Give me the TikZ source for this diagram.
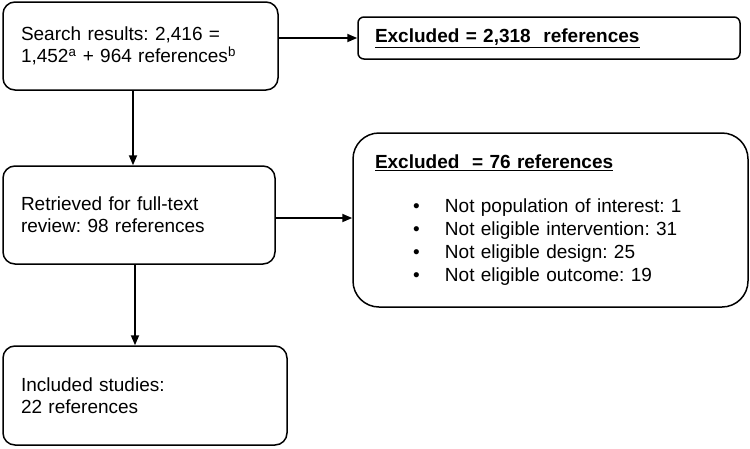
\documentclass[tikz,border=0pt]{standalone}
\usepackage{fontspec}
\setmainfont{Liberation Sans}
\usetikzlibrary{arrows.meta}

\begin{document}
\frenchspacing
\begin{tikzpicture}[x=1pt,y=-1pt,
    font=\fontsize{19}{22}\selectfont,
    box/.style={draw,line width=1.5pt,rounded corners=12pt,align=left,inner xsep=18pt},
    >={Triangle[length=10pt,width=8pt]}, line width=1.8pt]
            \useasboundingbox (0,0) rectangle (750,448);

            \node[box,text width=239pt,minimum height=88pt] (search) at (140.5,46)
                {Search results: 2,416 =\\1,452\textsuperscript{a} + 964 references\textsuperscript{b}};
            \node[box,text width=236pt,minimum height=98pt] (retrieved) at (139,215)
                {Retrieved for full-text\\review: 98 references};
            \node[box,text width=248pt,minimum height=99pt] (included) at (145,395.5)
                {Included studies:\\22 references};
            \node[box,rounded corners=6pt,inner xsep=17pt,text width=348pt,minimum height=42pt] (excl1) at (549,38)
                {\underline{\textbf{Excluded = 2,318\ \ references}}};
            \node[box,rounded corners=26pt,inner xsep=22pt,text width=351pt,minimum height=174pt] (excl2) at (550.5,220)
                {\underline{\textbf{Excluded\ \ = 76 references}}\\[22pt]
                 \makebox[70pt][l]{\hspace*{38pt}•}Not population of interest: 1\\[1pt]
                 \makebox[70pt][l]{\hspace*{38pt}•}Not eligible intervention: 31\\[1pt]
                 \makebox[70pt][l]{\hspace*{38pt}•}Not eligible design: 25\\[1pt]
                 \makebox[70pt][l]{\hspace*{38pt}•}Not eligible outcome: 19};

            \draw[->] (search.east |- excl1) to (excl1.west);
            \draw[->] ([yshift=-3pt]retrieved.east) to ([yshift=-3pt]retrieved.east -| excl2.west);
            \draw[->] ([xshift=-7.5pt]search.south) to ([xshift=-7.5pt]search.south |- retrieved.north);
            \draw[->] ([xshift=-4pt]retrieved.south) to ([xshift=-4pt]retrieved.south |- included.north);
        \end{tikzpicture}
\end{document}
